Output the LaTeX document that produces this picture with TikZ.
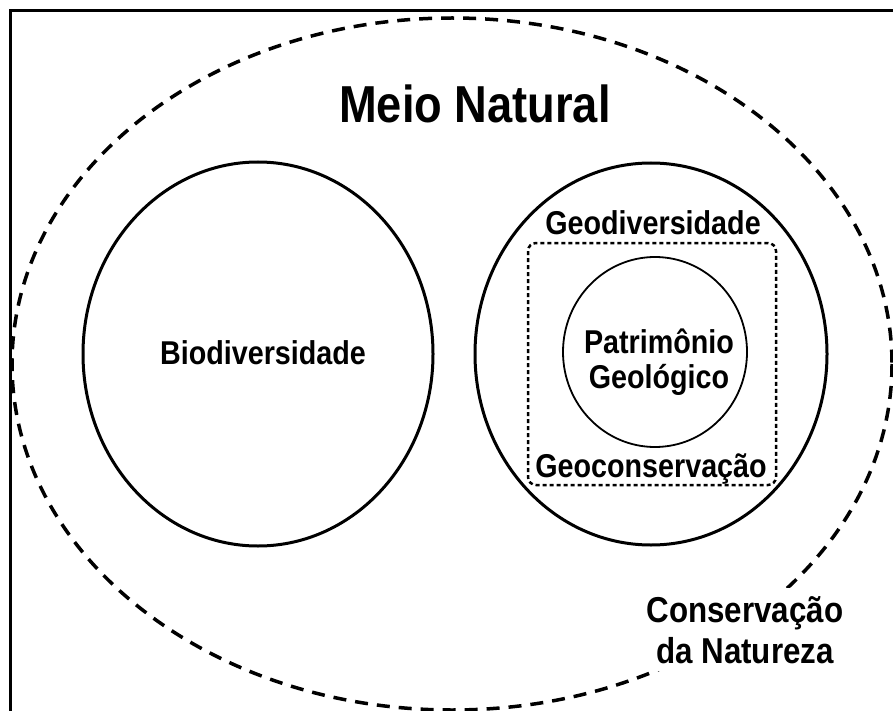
\documentclass[tikz,border=0pt]{standalone}
\usepackage{fontspec}
\setmainfont{Liberation Sans}[FakeStretch=0.87]
\usetikzlibrary{
    positioning
}

\begin{document}
\begin{tikzpicture}[x=1pt, y=-1pt,
    txt/.style={font=\bfseries\fontsize{33}{35}\selectfont, align=center, inner sep=0pt, anchor=base},
    bigtxt/.style={font=\bfseries\fontsize{52}{56}\selectfont, inner sep=0pt, anchor=base},
    solidline/.style={line width=3pt},
    longdash/.style={line width=3.5pt, dash pattern=on 13pt off 9pt},
    shortdash/.style={line width=2.5pt, dash pattern=on 4pt off 3pt, rounded corners=8pt}]
    \useasboundingbox (0, 0) rectangle (893, 711);
    \draw[line width=3pt] (10, 711) -- (10, 11) -- (893, 11);
    % outer region
    \draw[longdash] (452, 364) ellipse [x radius=440, y radius=346];
    \node[txt, fill=white, inner sep=8pt, font=\bfseries\fontsize{36}{41}\selectfont] (natureza) at (745, 663) {Conservação\\da Natureza};
    \node[bigtxt] (meio) at (475, 123) {Meio Natural};
    % left and right regions
    \draw[solidline] (258, 354) ellipse [x radius=175, y radius=192];
    \node[txt] (bio) at (263, 364) {Biodiversidade};
    \draw[solidline] (651, 354) ellipse [x radius=176, y radius=191];
    \node[txt] (geodiv) at (653, 235) {Geodiversidade};
    \draw[shortdash] (528, 243) rectangle (776, 485);
    \node[txt] (geocons) at (651, 477) {Geoconservação};
    \draw[line width=1.8pt] (655, 352) ellipse [x radius=92, y radius=95];
    \node[txt] (patrimonio) at (659, 388) {Patrimônio\\Geológico};
\end{tikzpicture}
\end{document}
